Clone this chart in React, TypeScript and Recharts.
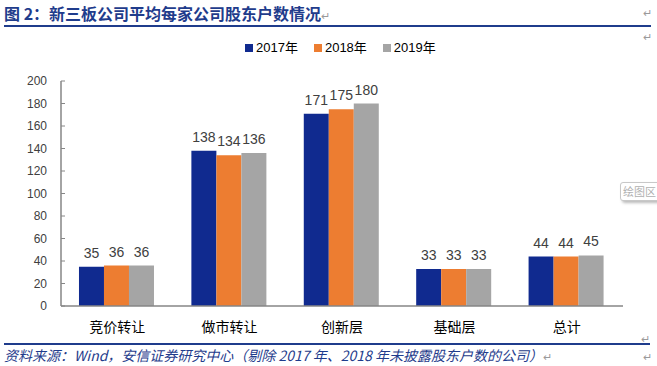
import { Bar, BarChart, LabelList, XAxis, YAxis } from 'recharts';

const categories = ['竞价转让', '做市转让', '创新层', '基础层', '总计'];
const y2017 = [35, 138, 171, 33, 44];
const y2018 = [36, 134, 175, 33, 44];
const y2019 = [36, 136, 180, 33, 45];
const yTicks = [0, 20, 40, 60, 80, 100, 120, 140, 160, 180, 200];

const series = [
  { key: 'y2017', name: '2017年', color: '#102A8F' },
  { key: 'y2018', name: '2018年', color: '#ED7D31' },
  { key: 'y2019', name: '2019年', color: '#A5A5A5' },
];

const data = categories.map((name, i) => ({
  name,
  y2017: y2017[i],
  y2018: y2018[i],
  y2019: y2019[i],
}));

const blue = '#1F3C8C';
const cjk = '"Noto Sans CJK SC", "Liberation Sans", sans-serif';
const mark = { color: '#9a9a9a', fontSize: 11, fontStyle: 'normal', fontWeight: 400 } as const;

const YTick = (props: any) => {
  const { x, y, payload } = props;
  return (
    <g>
      <text x={x} y={y} dy={4} textAnchor="end" fontSize={12} fill="#404040" fontFamily="Liberation Sans, Arial">
        {payload.value}
      </text>
      <line x1={x + 14} x2={x + 18} y1={y} y2={y} stroke="#868686" />
    </g>
  );
};

export default function App() {
  return (
    <div style={{ position: 'absolute', left: 0, top: 0, width: 657, height: 366, background: '#fff', fontFamily: cjk, overflow: 'hidden' }}>
      {/* TITLE */}
      <div style={{ position: 'absolute', left: 4, top: 3, fontSize: 16, fontWeight: 700, color: blue, whiteSpace: 'nowrap', lineHeight: '20px' }}>
        图 2：新三板公司平均每家公司股东户数情况<span style={mark}>↵</span>
      </div>
      <div style={{ position: 'absolute', left: 4, top: 25, width: 647, height: 2, background: blue }} />
      <span style={{ ...mark, position: 'absolute', left: 643, top: 4 }}>↵</span>
      <span style={{ ...mark, position: 'absolute', left: 643, top: 28 }}>↵</span>

      {/* LEGEND */}
      <div style={{ position: 'absolute', top: 40, left: 245, display: 'flex', fontSize: 13, color: '#000', lineHeight: '16px' }}>
        {series.map((s) => (
          <div key={s.key} style={{ display: 'flex', alignItems: 'center', marginRight: 16 }}>
            <span style={{ width: 8, height: 8, background: s.color, marginRight: 3 }} />
            <span style={{ fontFamily: '"Liberation Sans", "Noto Sans CJK SC"' }}>{s.name}</span>
          </div>
        ))}
      </div>

      {/* CHART */}
      <div style={{ position: 'absolute', left: 0, top: 0 }}>
        <BarChart
          width={657}
          height={366}
          data={data}
          margin={{ top: 81, right: 34, bottom: 30, left: 11 }}
          barCategoryGap="16%"
          barGap={0}
        >
          <YAxis
            type="number"
            domain={[0, 200]}
            ticks={yTicks}
            width={50}
            tickSize={0}
            tickMargin={14}
            tick={<YTick />}
            axisLine={{ stroke: '#868686', strokeWidth: 1.5 }}
            interval={0}
          />
          <XAxis
            dataKey="name"
            height={30}
            tickLine={false}
            axisLine={{ stroke: '#868686', strokeWidth: 1.5 }}
            tick={{ fontSize: 14, fill: '#000', fontFamily: cjk }}
            tickMargin={10}
            interval={0}
          />
          {series.map((s) => (
            <Bar key={s.key} dataKey={s.key} name={s.name} fill={s.color} isAnimationActive={false}>
              <LabelList
                dataKey={s.key}
                position="top"
                offset={9}
                fill="#404040"
                fontSize={14}
                fontFamily="Liberation Sans, Arial"
              />
            </Bar>
          ))}
        </BarChart>
      </div>

      {/* plot area hint box */}
      <div
        style={{
          position: 'absolute', left: 620, top: 182, width: 50, height: 17, border: '1px solid #c8c8c8',
          borderRadius: 3, boxShadow: '2px 2px 3px #bbb', fontSize: 11, color: '#b0b0b0', lineHeight: '17px',
          paddingLeft: 2, whiteSpace: 'nowrap', background: '#fff',
        }}
      >
        绘图区
      </div>

      {/* SOURCE */}
      <span style={{ ...mark, position: 'absolute', left: 641, top: 330 }}>↵</span>
      <div style={{ position: 'absolute', left: 4, top: 343, width: 646, height: 2, background: blue }} />
      <div style={{ position: 'absolute', left: 4, top: 346, fontSize: 14, fontStyle: 'italic', color: blue, whiteSpace: 'nowrap', lineHeight: '18px' }}>
        资料来源：Wind，安信证券研究中心（剔除 2017 年、2018 年未披露股东户数的公司）<span style={mark}>↵</span>
      </div>
      <span style={{ ...mark, position: 'absolute', left: 643, top: 348 }}>↵</span>
    </div>
  );
}
